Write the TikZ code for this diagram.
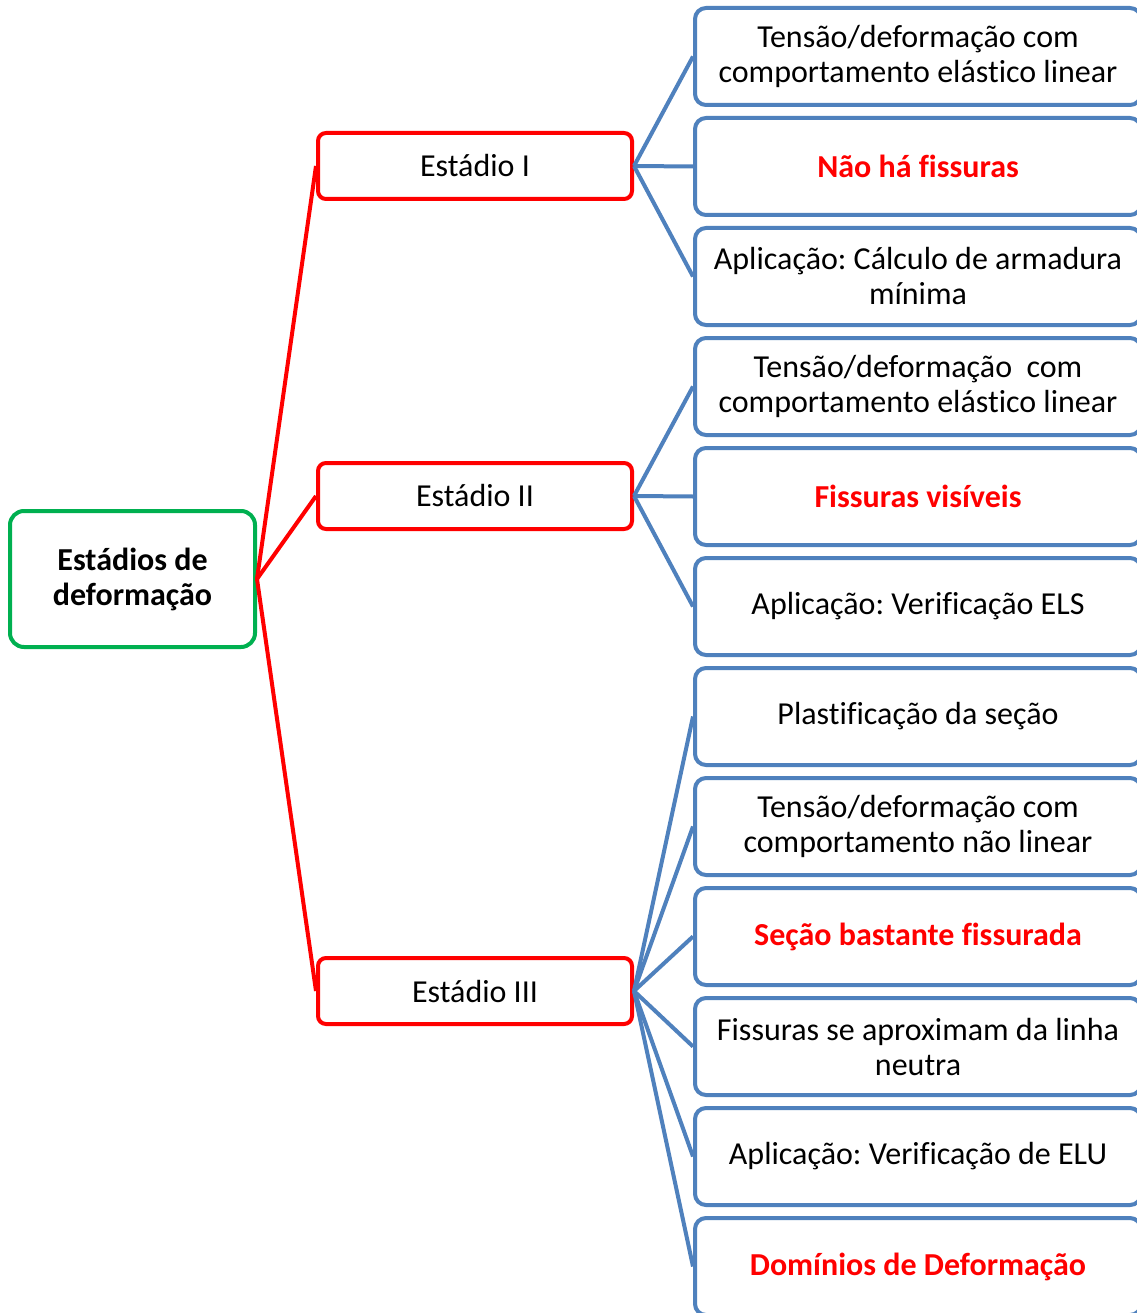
\documentclass[tikz,border=0pt]{standalone}
\usepackage{fontspec}
\setmainfont{Carlito}[Ligatures=NoCommon]
\usepackage{tikz}
\frenchspacing

\definecolor{leafblue}{HTML}{4F81BD}
\definecolor{stagered}{HTML}{FF0000}
\definecolor{rootgreen}{HTML}{00B050}

\begin{document}
\begin{tikzpicture}[x=1pt,y=-1pt,line width=4pt,
    every node/.style={font=\fontsize{32}{35}\selectfont,align=center,inner sep=0pt},
    root/.style={draw=rootgreen,rounded corners=14pt,minimum width=245pt,minimum height=136pt,font=\fontsize{32}{35}\selectfont\bfseries},
    stage/.style={draw=stagered,rounded corners=8pt,minimum width=314pt,minimum height=66pt},
    leaf/.style={draw=leafblue,rounded corners=11pt,minimum width=446pt,minimum height=97pt},
    hot/.style={text=stagered,font=\fontsize{32}{35}\selectfont\bfseries}]
    \useasboundingbox (0,0) rectangle (1136,1313);
    \fill[white] (0,0) rectangle (1136,1313);
    % root and stages
    \node[root] (root) at (132.5,579) {Estádios de\\deformação};
    \node[stage] (e1) at (475,166) {Estádio I};
    \node[stage] (e2) at (475,496) {Estádio II};
    \node[stage] (e3) at (475,991) {Estádio III};
    % leaves
    \node[leaf] (b1) at (918,56.5) {Tensão/deformação com\\comportamento elástico linear};
    \node[leaf,hot] (b2) at (918,166.5) {Não há fissuras};
    \node[leaf] (b3) at (918,276.5) {Aplicação: Cálculo de armadura\\mínima};
    \node[leaf] (b4) at (918,386.5) {Tensão/deformação~ com\\comportamento elástico linear};
    \node[leaf,hot] (b5) at (918,496.5) {Fissuras visíveis};
    \node[leaf] (b6) at (918,606.5) {Aplicação: Verificação ELS};
    \node[leaf] (b7) at (918,716.5) {Plastificação da seção};
    \node[leaf] (b8) at (918,826.5) {Tensão/deformação com\\comportamento não linear};
    \node[leaf,hot] (b9) at (918,936.5) {Seção bastante fissurada};
    \node[leaf] (b10) at (918,1046.5) {Fissuras se aproximam da linha\\neutra};
    \node[leaf] (b11) at (918,1156.5) {Aplicação: Verificação de ELU};
    \node[leaf,hot] (b12) at (918,1266.5) {Domínios de Deformação};
    % connectors
    \foreach \s in {e1,e2,e3}
        \draw[stagered] (root.east) -- (\s.west);
    \foreach \b in {b1,b2,b3}
        \draw[leafblue] (e1.east) -- (\b.west);
    \foreach \b in {b4,b5,b6}
        \draw[leafblue] (e2.east) -- (\b.west);
    \foreach \b in {b7,b8,b9,b10,b11,b12}
        \draw[leafblue] (e3.east) -- (\b.west);
\end{tikzpicture}
\end{document}
